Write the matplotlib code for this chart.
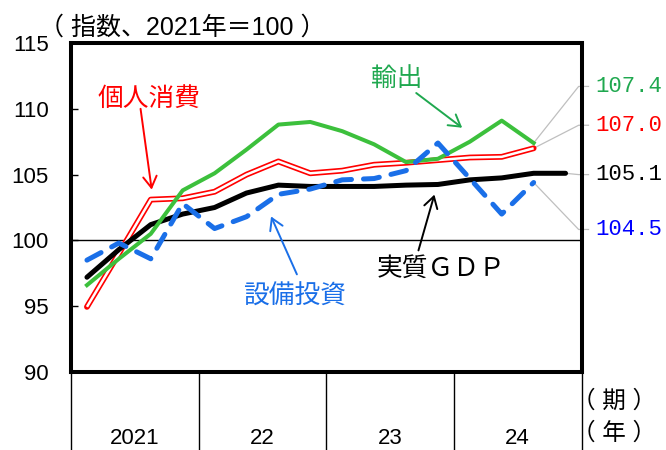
import matplotlib
matplotlib.use("Agg")
import matplotlib.pyplot as plt

plt.rcParams['font.family'] = ['Liberation Sans', 'Noto Sans CJK JP']

# quarterly index, 2021Q1 .. 2024Q4 (2021 = 100)
years = ['2021', '22', '23', '24']
gdp = [97.2, 99.3, 101.2, 102.0, 102.5, 103.6, 104.2, 104.1,
       104.1, 104.1, 104.2, 104.25, 104.6, 104.75, 105.1, 105.1]
consumption = [94.95, 99.0, 103.1, 103.2, 103.7, 105.0, 106.0, 105.1,
               105.3, 105.75, 105.9, 106.1, 106.3, 106.35, 107.0]
exports = [96.6, 98.6, 100.5, 103.8, 105.1, 106.9, 108.8, 109.0,
           108.3, 107.3, 105.95, 106.2, 107.5, 109.1, 107.4]
capex = [98.5, 99.8, 98.6, 102.8, 100.9, 101.8, 103.5, 103.9,
         104.6, 104.7, 105.3, 107.4, 104.7, 102.0, 104.4]
last_labels = ['107.4', '107.0', '105.1', '104.5']

GREEN = '#3cc03c'
GREEN_TXT = '#1fa84f'
BLUE = '#1a6fe8'

fig = plt.figure(figsize=(6.66, 4.5), dpi=100)
ax = fig.add_axes([71 / 666, 1 - 372 / 450, 510.5 / 666, 329 / 450])

ax.axhline(100, color='black', lw=1.0, zorder=1)

x_gdp = list(range(len(gdp)))
x_q = list(range(len(consumption)))

ax.plot(x_gdp, gdp, color='black', lw=3.6, solid_joinstyle='round',
        solid_capstyle='round', zorder=3)
# consumption: red outline with white core
ax.plot(x_q, consumption, color='red', lw=4.2, solid_capstyle='round', zorder=2)
ax.plot(x_q, consumption, color='white', lw=1.8, solid_capstyle='butt', zorder=2.1)
ax.plot(x_q, exports, color=GREEN, lw=2.9, zorder=4)
ax.plot(x_q, capex, color=BLUE, lw=3.6, linestyle=(0, (3.2, 2.4)),
        dash_capstyle='round', zorder=5)

ax.set_xlim(-0.5, 15.5)
ax.set_ylim(90, 115)
ax.set_yticks([90, 95, 100, 105, 110, 115])
ax.set_xticks([])
ax.tick_params(axis='y', direction='in', length=5, width=1, pad=16, labelsize=16)
for s in ax.spines.values():
    s.set_linewidth(2.9)

# series labels with arrows
arr = dict(arrowstyle='->,head_length=0.45,head_width=0.27', shrinkA=0, shrinkB=0,
           mutation_scale=18)
ax.text(1.93, 110.76, '個人消費', color='red', fontsize=18.5, ha='center', va='center')
ax.annotate('', xy=(2.03, 103.86), xytext=(1.68, 110.0),
            arrowprops=dict(arr, color='red', lw=1.4))
ax.text(9.70, 112.27, '輸出', color=GREEN_TXT, fontsize=18.5, ha='center', va='center')
ax.annotate('', xy=(11.76, 108.56), xytext=(10.32, 111.2),
            arrowprops=dict(arr, color=GREEN_TXT, lw=1.4))
ax.text(6.49, 95.76, '設備投資', color=BLUE, fontsize=18.5, ha='center', va='center')
ax.annotate('', xy=(5.77, 101.82), xytext=(6.58, 97.42),
            arrowprops=dict(arr, color=BLUE, lw=1.4))
ax.text(11.10, 97.88, '実質ＧＤＰ', color='black', fontsize=18.5, ha='center', va='center')
ax.annotate('', xy=(10.89, 103.48), xytext=(10.39, 99.24),
            arrowprops=dict(arr, color='black', lw=1.4))

# connectors to latest values on the right
ends = [(x_q[-1], exports[-1]), (x_q[-1], consumption[-1]),
        (x_gdp[-1], gdp[-1]), (x_q[-1], capex[-1])]
label_y = [111.7, 108.75, 105.0, 100.83]
label_col = [GREEN_TXT, 'red', 'black', 'blue']
for (ex, ey), ly, txt, c in zip(ends, label_y, last_labels, label_col):
    ax.plot([ex, 15.41, 15.72], [ey, ly, ly], color='#bfbfbf', lw=0.9,
            clip_on=False, zorder=1)
    ax.text(15.93, ly, txt, color=c, fontsize=16, ha='left', va='center',
            family=['Liberation Mono'], clip_on=False)

# year row below the plot
xt = ax.get_xaxis_transform()
for sx in [-0.5, 3.5, 7.5, 11.5, 15.5]:
    ax.plot([sx, sx], [0, -0.25], color='black', lw=1.0, transform=xt, clip_on=False)
for i, yr in enumerate(years):
    ax.text(1.5 + 4 * i, -0.202, yr, transform=xt, ha='center', va='center', fontsize=16)

fig.text(614 / 666, 1 - 402 / 450, '（ 期 ）', ha='center', va='center', fontsize=17)
fig.text(614 / 666, 1 - 433 / 450, '（ 年 ）', ha='center', va='center', fontsize=17)
fig.text(39 / 666, 1 - 35 / 450, '（ 指数、2021年＝100 ）', ha='left', va='baseline',
         fontsize=18)

fig.savefig('out.png', dpi=100)
